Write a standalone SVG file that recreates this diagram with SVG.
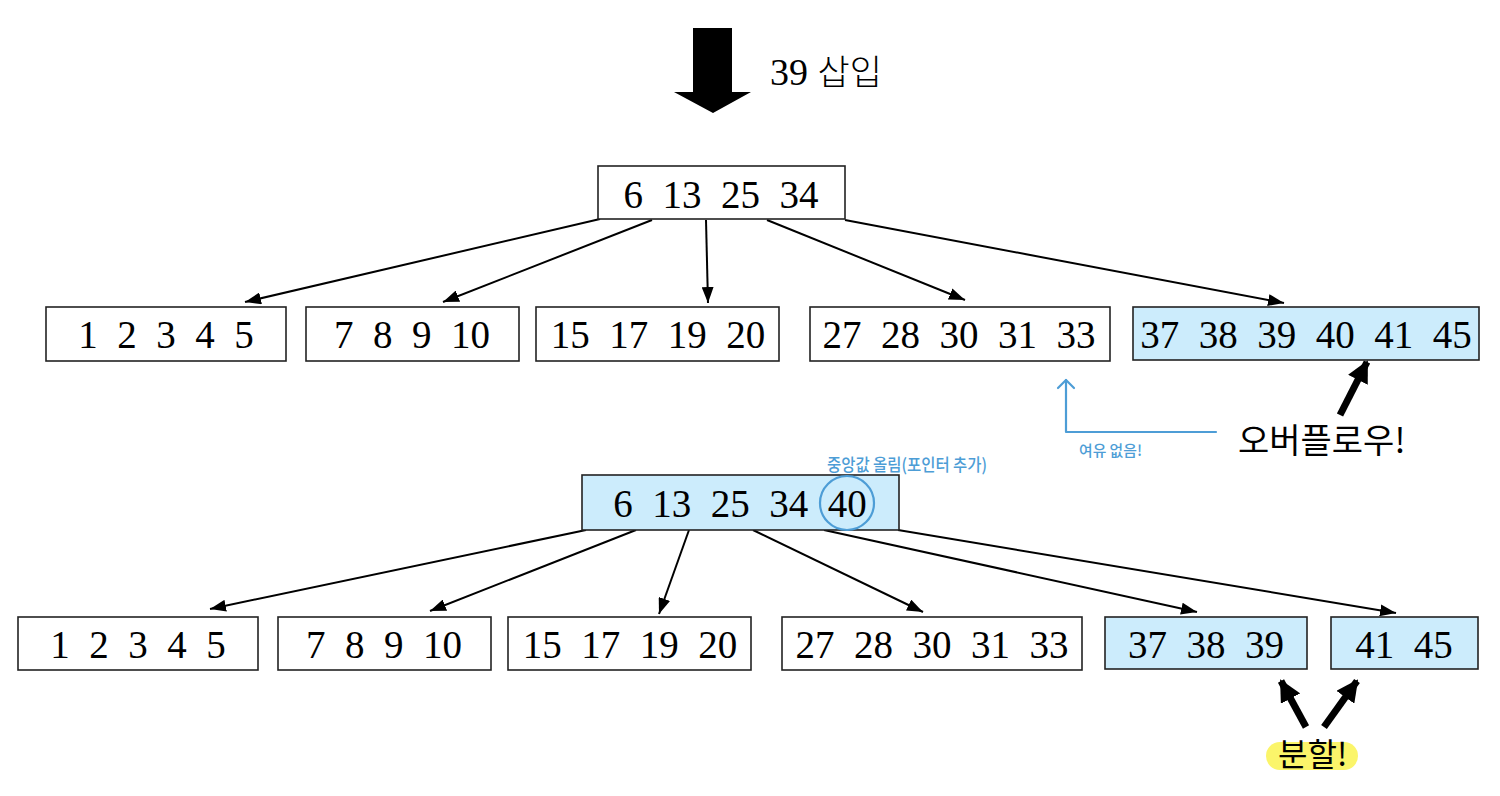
<svg xmlns="http://www.w3.org/2000/svg" width="1500" height="796" viewBox="0 0 1500 796">
<style>
.box{fill:#ffffff;stroke:#222;stroke-width:1.6}
.hl{fill:#ccecfc;stroke:#222;stroke-width:1.6}
.num{font-family:"Liberation Serif",serif;font-size:39px;fill:#000;text-anchor:middle;white-space:pre}
.conn{stroke:#000;stroke-width:2;fill:none}
.thick{stroke:#000;stroke-width:7;fill:none}
.blue{stroke:#4d9dd6;stroke-width:2.2;fill:none;stroke-linecap:round;stroke-linejoin:round}
.btxt{font-family:"Noto Sans CJK KR",sans-serif;fill:#4d9dd6;font-weight:500}
.ktxt{font-family:"Noto Sans CJK KR",sans-serif;fill:#000}
</style>
<defs>
<marker id="ah" viewBox="0 0 16 12" refX="16" refY="6" markerWidth="16" markerHeight="12" markerUnits="userSpaceOnUse" orient="auto"><path d="M0,0 L16,6 L0,12 z" fill="#000"/></marker>
<marker id="ahb" viewBox="0 0 22 22" refX="20" refY="11" markerWidth="22" markerHeight="22" markerUnits="userSpaceOnUse" orient="auto"><path d="M0,0 L22,11 L0,22 z" fill="#000"/></marker>
</defs>

<g id="insert-arrow">
<polygon points="693,28 732,28 732,92 751,92 713,113 674,92 693,92" fill="#000"/>
<text x="770" y="85" style="font-family:'Liberation Serif',serif;font-size:38px">39 <tspan style="font-family:'Noto Sans CJK KR',sans-serif;font-weight:300;font-size:35px">삽입</tspan></text>
</g>

<g id="connectors">
<line class="conn" x1="600" y1="219" x2="245" y2="302" marker-end="url(#ah)"/>
<line class="conn" x1="652" y1="220" x2="443" y2="302" marker-end="url(#ah)"/>
<line class="conn" x1="706" y1="220" x2="708" y2="303" marker-end="url(#ah)"/>
<line class="conn" x1="767" y1="220" x2="965" y2="300" marker-end="url(#ah)"/>
<line class="conn" x1="845" y1="220" x2="1284" y2="303" marker-end="url(#ah)"/>

<line class="conn" x1="586" y1="530" x2="210" y2="609" marker-end="url(#ah)"/>
<line class="conn" x1="636" y1="530" x2="430" y2="611" marker-end="url(#ah)"/>
<line class="conn" x1="689" y1="530" x2="659" y2="614" marker-end="url(#ah)"/>
<line class="conn" x1="753" y1="530" x2="923" y2="612" marker-end="url(#ah)"/>
<line class="conn" x1="824" y1="530" x2="1197" y2="612" marker-end="url(#ah)"/>
<line class="conn" x1="898" y1="530" x2="1396" y2="613" marker-end="url(#ah)"/>

<line class="thick" x1="1340" y1="415" x2="1367" y2="362" marker-end="url(#ahb)"/>
<line class="thick" x1="1306" y1="727" x2="1281" y2="681" marker-end="url(#ahb)"/>
<line class="thick" x1="1324" y1="727" x2="1357" y2="681" marker-end="url(#ahb)"/>

<polyline class="blue" points="1216,432 1066,432 1066,380"/>
<polyline class="blue" points="1058,388 1066,380 1074,388"/>
</g>

<g id="root-top">
<rect class="box" x="598" y="166" width="247" height="53"/>
<text class="num" x="721" y="208" xml:space="preserve">6  13  25  34</text>
</g>

<g id="leaf-top-1">
<rect class="box" x="46" y="307" width="240" height="54"/>
<text class="num" x="166" y="348" xml:space="preserve">1  2  3  4  5</text>
</g>
<g id="leaf-top-2">
<rect class="box" x="306" y="307" width="213" height="54"/>
<text class="num" x="412" y="348" xml:space="preserve">7  8  9  10</text>
</g>
<g id="leaf-top-3">
<rect class="box" x="536" y="307" width="243" height="54"/>
<text class="num" x="658" y="348" xml:space="preserve">15  17  19  20</text>
</g>
<g id="leaf-top-4">
<rect class="box" x="810" y="307" width="300" height="54"/>
<text class="num" x="959" y="348" xml:space="preserve">27  28  30  31  33</text>
</g>
<g id="leaf-top-5">
<rect class="hl" x="1133" y="307" width="346" height="53"/>
<text class="num" x="1306" y="348" xml:space="preserve">37  38  39  40  41  45</text>
</g>

<g id="overflow-label">
<text class="ktxt" x="1238" y="453" style="font-size:34px">오버플로우!</text>
</g>
<g id="no-room-label">
<text class="btxt" x="1079" y="456" style="font-size:15px" textLength="63" lengthAdjust="spacingAndGlyphs">여유 없음!</text>
</g>
<g id="median-label">
<text class="btxt" x="827" y="471" style="font-size:17px" textLength="160" lengthAdjust="spacingAndGlyphs">중앙값 올림(포인터 추가)</text>
</g>

<g id="root-bottom">
<rect class="hl" x="582" y="475" width="317" height="55"/>
<text class="num" x="740" y="517" xml:space="preserve">6  13  25  34  40</text>
<circle cx="847" cy="503" r="27" fill="none" stroke="#4d9dd6" stroke-width="2.2"/>
</g>

<g id="leaf-bot-1">
<rect class="box" x="18" y="617" width="240" height="53"/>
<text class="num" x="138" y="658" xml:space="preserve">1  2  3  4  5</text>
</g>
<g id="leaf-bot-2">
<rect class="box" x="278" y="617" width="213" height="53"/>
<text class="num" x="384" y="658" xml:space="preserve">7  8  9  10</text>
</g>
<g id="leaf-bot-3">
<rect class="box" x="508" y="617" width="243" height="53"/>
<text class="num" x="630" y="658" xml:space="preserve">15  17  19  20</text>
</g>
<g id="leaf-bot-4">
<rect class="box" x="782" y="617" width="300" height="53"/>
<text class="num" x="932" y="658" xml:space="preserve">27  28  30  31  33</text>
</g>
<g id="leaf-bot-5">
<rect class="hl" x="1105" y="617" width="202" height="52"/>
<text class="num" x="1206" y="658" xml:space="preserve">37  38  39</text>
</g>
<g id="leaf-bot-6">
<rect class="hl" x="1331" y="617" width="147" height="52"/>
<text class="num" x="1404" y="658" xml:space="preserve">41  45</text>
</g>

<g id="split-label">
<rect x="1266" y="742" width="92" height="28" rx="14" fill="#fbf56a"/>
<text class="ktxt" x="1278" y="766" style="font-size:32px">분할!</text>
</g>
</svg>
